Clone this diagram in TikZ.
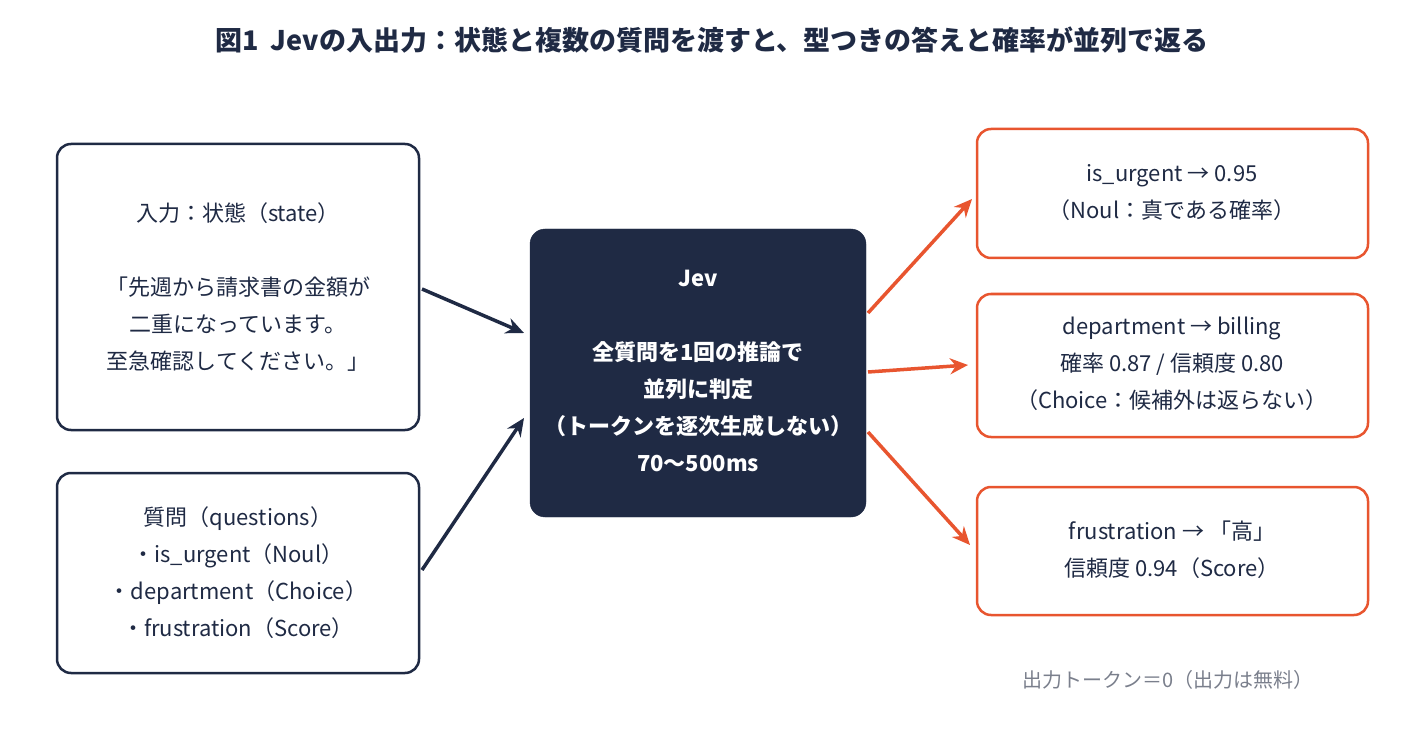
\documentclass[tikz,border=0pt]{standalone}
\usepackage{fontspec}
\setmainfont{Noto Sans CJK JP}
\usetikzlibrary{arrows.meta}
\definecolor{navy}{HTML}{1F2A44}
\definecolor{org}{HTML}{E8552F}
\definecolor{gr}{HTML}{7A7F8C}
\begin{document}
\begin{tikzpicture}[x=1pt,y=-1pt,
  txt/.style={font=\fontsize{22}{37}\selectfont,text=navy,align=center},
  inbox/.style={draw=navy,line width=2.5pt,rounded corners=14pt,fill=white},
  outbox/.style={draw=org,line width=2.5pt,rounded corners=14pt,fill=white},
  darr/.style={draw=navy,line width=3.5pt,-{Stealth[length=18pt,width=16pt]}},
  oarr/.style={draw=org,line width=3.5pt,-{Stealth[length=18pt,width=16pt]}}]
\useasboundingbox (0,0) rectangle (1425,746);
\node[font=\fontsize{27}{32}\selectfont\bfseries,text=navy] (title) at (712,40) {図1\ \ Jevの入出力：状態と複数の質問を渡すと、型つきの答えと確率が並列で返る};
\draw[inbox] (57,144) rectangle (419,430);
\node[txt] (state) at (238,287) {入力：状態（state）\\[0pt] \\「先週から請求書の金額が\\二重になっています。\\至急確認してください。」};
\draw[inbox] (57,473) rectangle (419,673);
\node[txt] (q) at (238,573) {質問（questions）\\・is\_urgent（Noul）\\・department（Choice）\\・frustration（Score）};
\draw[fill=navy,draw=navy,rounded corners=15pt] (530,229) rectangle (866,517);
\node[txt,text=white,font=\fontsize{22}{37}\selectfont\bfseries] (jev) at (698,371) {Jev\\ \\全質問を1回の推論で\\並列に判定\\（トークンを逐次生成しない）\\70〜500ms};
\draw[outbox] (977,129) rectangle (1368,258);
\node[txt] (o1) at (1172,193) {is\_urgent → 0.95\\（Noul：真である確率）};
\draw[outbox] (977,294) rectangle (1368,437);
\node[txt] (o2) at (1172,364) {department → billing\\確率 0.87 / 信頼度 0.80\\（Choice：候補外は返らない）};
\draw[outbox] (977,487) rectangle (1368,615);
\node[txt] (o3) at (1172,550) {frustration → 「高」\\信頼度 0.94（Score）};
\node[font=\fontsize{20}{24}\selectfont,text=gr] (foot) at (1168,680) {出力トークン＝0（出力は無料）};
\coordinate (a1s) at (422,289); \coordinate (a1e) at (524,333);
\coordinate (a2s) at (422,570); \coordinate (a2e) at (524,418);
\coordinate (b1s) at (868,313); \coordinate (b1e) at (972,199);
\coordinate (b2s) at (868,372); \coordinate (b2e) at (968,365);
\coordinate (b3s) at (868,432); \coordinate (b3e) at (970,545);
\draw[darr] (a1s) -- (a1e);
\draw[darr] (a2s) -- (a2e);
\draw[oarr] (b1s) -- (b1e);
\draw[oarr] (b2s) -- (b2e);
\draw[oarr] (b3s) -- (b3e);
\end{tikzpicture}
\end{document}
